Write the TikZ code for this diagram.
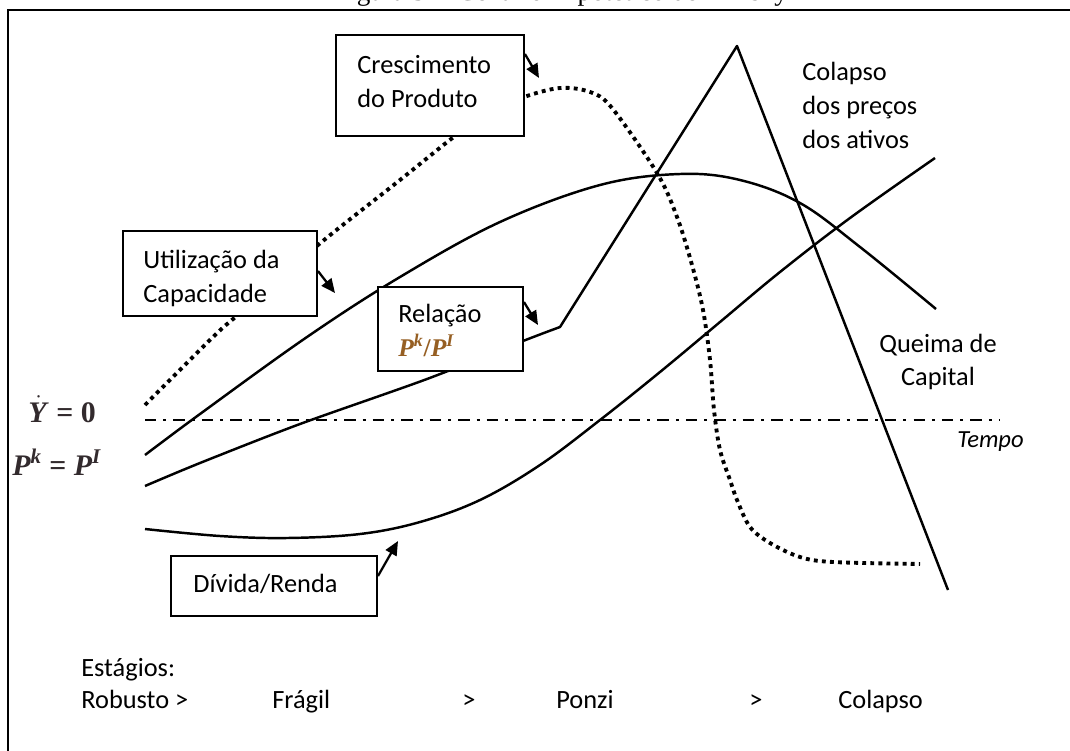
\documentclass[tikz,border=0pt]{standalone}
\usepackage{fontspec}
\setmainfont{Carlito}
\newfontfamily\capfont{Liberation Serif}
\usetikzlibrary{arrows.meta,fit}
\definecolor{mathc}{RGB}{50,42,45}
\definecolor{relc}{RGB}{150,95,35}
\newcommand{\bi}[1]{{\itshape #1}}
\tikzset{
 txt/.style={font=\fontsize{15}{18.5}\selectfont, inner sep=0pt, anchor=base west},
 ctxt/.style={font=\fontsize{15}{18.5}\selectfont, inner sep=0pt, anchor=base},
 mtxt/.style={font=\capfont\bfseries\fontsize{17}{20}\selectfont, inner sep=0pt, anchor=base west},
 boxn/.style={draw, line width=1.1pt, fill=white, inner sep=0pt},
 curve/.style={line width=1.4pt, line join=round},
 dotc/.style={line width=2.2pt, dash pattern=on 2.2pt off 2.4pt},
 dashdot/.style={line width=1.4pt, dash pattern=on 6.5pt off 4pt on 1.7pt off 4pt},
 arr/.style={line width=1.3pt, -{Triangle[length=8pt,width=7pt]}},
}
\begin{document}
\begin{tikzpicture}[x=0.02cm,y=-0.02cm]
\useasboundingbox (0,0) rectangle (1070,750);
% caption (cut off at top)
\node[font=\capfont\fontsize{15.5}{18}\selectfont, anchor=base, inner sep=0pt] (title) at (561,1) {Figura 3 -- Cenário Hipotético de Minsky};
% frame
\draw[line width=1.1pt] (8,10) rectangle (1090,770);
% dash-dot axis
\coordinate (ax0) at (145,420);
\coordinate (ax1) at (1000,420);
\draw[dashdot] (ax0) -- (ax1);
% dotted: output growth
\draw[dotc] plot[smooth, tension=0.55] coordinates {(145,405) (213,337) (240,313) (318,245) (400,180) (455,136) (490,112) (524,97) (560,88) (590,92) (612,108) (657,173) (677,217) (692,265) (703,310) (710,360) (714,410) (720,450) (730,480) (737,500) (750,527) (770,543) (800,557) (833,562) (920,564)};
% hump: capacity utilization
\draw[curve] plot[smooth, tension=0.6] coordinates {(145,455) (200,414) (307,337) (400,277) (500,222) (600,185) (680,174) (740,180) (800,203) (860,247) (936,309)};
% Pk/PI relation and asset price collapse
\draw[curve] plot[smooth, tension=0.5] coordinates {(145,486) (200,463) (300,424) (427,379) (523,341) (560,327)} -- (737,46) -- (948,590);
% debt/income
\draw[curve] plot[smooth, tension=0.6] coordinates {(145,529) (220,536) (287,538) (360,534) (420,522) (480,500) (540,465) (600,420) (660,372) (720,322) (780,272) (850,218) (935,158)};
% boxes
\node[boxn, fit={(336,35) (524,136)}] (cres) {};
\node[txt] (cres1) at (357,73) {Crescimento};
\node[txt] (cres2) at (357,108) {do Produto};
\node[boxn, fit={(123,231) (317,316)}] (util) {};
\node[txt] (util1) at (143,268) {Utilização da};
\node[txt] (util2) at (143,302) {Capacidade};
\node[boxn, fit={(378,287) (523,371)}] (rel) {};
\node[txt] (rel1) at (398,322) {Relação};
\node[mtxt, text=relc, font=\capfont\bfseries\fontsize{14.5}{17}\selectfont] (rel2) at (398,356) {\bi{P}\textsuperscript{\bi{k}}/\bi{P}\textsuperscript{\bi{I}}};
\node[boxn, fit={(171,556) (377,616)}] (div) {};
\node[txt] (div1) at (193,592) {Dívida/Renda};
% arrows
\coordinate (t1) at (539,78);
\coordinate (t2) at (335,293);
\coordinate (t3) at (538,325);
\coordinate (t4) at (398,541);
\draw[arr] ([yshift=-0.4cm]cres.north east) -- (t1);
\draw[arr] ([yshift=-0.82cm]util.north east) -- (t2);
\draw[arr] ([yshift=-0.32cm]rel.north east) -- (t3);
\draw[arr] ([yshift=-0.42cm]div.north east) -- (t4);
% free labels
\node[txt] (col1) at (802,80) {Colapso};
\node[txt] (col2) at (802,114) {dos preços};
\node[txt] (col3) at (802,148) {dos ativos};
\node[ctxt] (qc1) at (938,352) {Queima de};
\node[ctxt] (qc2) at (938,385) {Capital};
\node[txt, font=\fontsize{14}{16}\selectfont\itshape] (tempo) at (957,447) {Tempo};
\node[mtxt, text=mathc] (ydot) at (28,422) {$\dot{\hbox{\itshape Y\/}}$ = 0};
\node[mtxt, text=mathc] (pkpi) at (12,475) {\bi{P}\textsuperscript{\bi{k}} = \bi{P}\textsuperscript{\bi{I}}};
% stages
\node[txt] (est) at (81,676) {Estágios:};
\node[txt] (s1) at (81,708) {Robusto >};
\node[txt] (s2) at (272,708) {Frágil};
\node[txt] (g2) at (462,708) {>};
\node[txt] (s3) at (556,708) {Ponzi};
\node[txt] (g3) at (749,708) {>};
\node[txt] (s4) at (838,708) {Colapso};
\end{tikzpicture}
\end{document}
